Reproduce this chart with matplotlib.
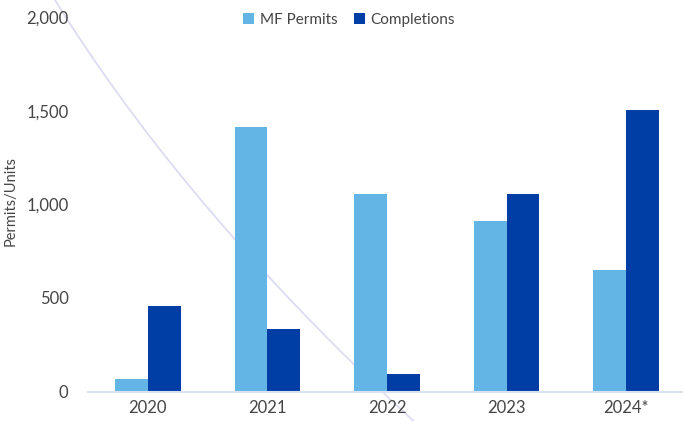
import numpy as np
import matplotlib
matplotlib.use("Agg")
import matplotlib.pyplot as plt

# --- data ---
years = ["2020", "2021", "2022", "2023", "2024*"]
mf_permits = [65, 1415, 1053, 911, 650]
completions = [457, 333, 94, 1053, 1505]

LIGHT = "#63B5E5"
DARK = "#003DA5"
TXT = "#454545"

plt.rcParams["font.family"] = ["Lato", "DejaVu Sans"]

W, H = 683, 421
fig = plt.figure(figsize=(W / 100, H / 100), dpi=100)
fig.patch.set_facecolor("white")

ax = fig.add_axes([88 / W, (H - 391.5) / H, (686 - 88) / W, (391.5 - 17) / H])
ax.set_facecolor("none")

x = np.arange(len(years))
bw = 0.275
ax.bar(x - bw / 2, mf_permits, bw, color=LIGHT, label="MF Permits", zorder=2)
ax.bar(x + bw / 2, completions, bw, color=DARK, label="Completions", zorder=2)

ax.set_xlim(-0.5, len(years) - 0.5)
ax.set_ylim(0, 2000)
ax.set_yticks([0, 500, 1000, 1500, 2000])
ax.set_yticklabels(["0", "500", "1,000", "1,500", "2,000"])
ax.set_xticks(x)
ax.set_xticklabels(years)
ax.tick_params(axis="both", length=0, labelsize=12, colors=TXT)
ax.tick_params(axis="y", pad=14)
ax.tick_params(axis="x", pad=6)

for s in ["top", "right", "left"]:
    ax.spines[s].set_visible(False)
ax.spines["bottom"].set_color("#D9E2F3")
ax.spines["bottom"].set_linewidth(1.5)

ax.set_ylabel("Permits/Units", fontsize=10.5, color=TXT)
ax.yaxis.set_label_coords(-0.118, 0.51)

# thin decorative arc sweeping behind the bars
yy = np.linspace(-5, H + 5, 200)
xx = 55 + 0.62 * yy + 0.00055 * yy ** 2
ax.plot(xx / W, 1 - yy / H, color="#DCDCF2", lw=1.3,
        transform=fig.transFigure, clip_on=False, zorder=1)

fig.legend(loc="center", bbox_to_anchor=(349 / W, 1 - 20 / H), ncol=2,
           frameon=False, fontsize=11, handlelength=0.7, handleheight=0.7,
           handletextpad=0.35, columnspacing=1.1, labelcolor=TXT)

fig.savefig("out.png", dpi=100, facecolor="white")
